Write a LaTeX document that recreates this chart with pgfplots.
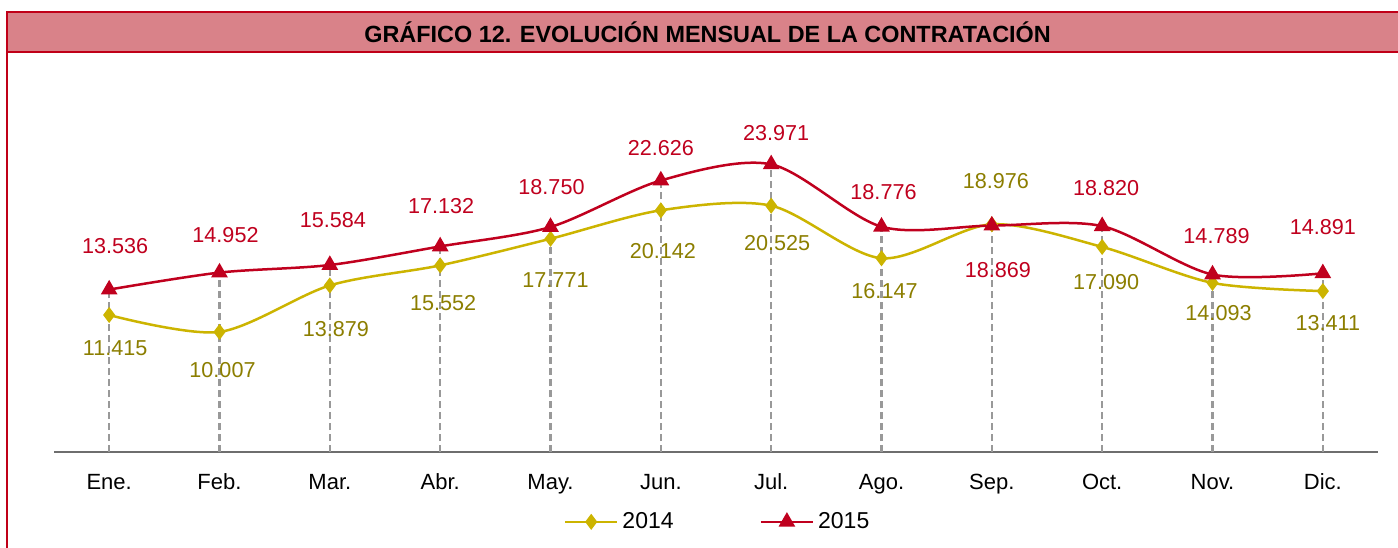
\documentclass[border=0pt]{standalone}
\usepackage{fontspec}
\setmainfont{Liberation Sans}
\usepackage{pgfplots}
\pgfplotsset{compat=1.18}
\usepackage{pgfplotstable}

\definecolor{c14}{HTML}{CCB400}
\definecolor{c14t}{HTML}{8C7E00}
\definecolor{c15}{HTML}{C0001E}
\definecolor{bandc}{HTML}{D98289}
\definecolor{framec}{HTML}{C00018}
\definecolor{dropc}{HTML}{999999}
\definecolor{axisc}{HTML}{6E6E6E}

\pgfplotstableread{
x y lab dx dy
0 11415 11.415 3 -16.7
1 10007 10.007 1.5 -19.2
2 13879 13.879 3 -22
3 15552 15.552 1.5 -19
4 17771 17.771 2.5 -20.9
5 20142 20.142 1 -20.6
6 20525 20.525 3 -18.5
7 16147 16.147 1.5 -16.6
8 18976 18.976 2 21.8
9 17090 17.090 2 -17.8
10 14093 14.093 3 -15.2
11 13411 13.411 2.5 -16.2
}\tA

\pgfplotstableread{
x y lab dx dy
0 13536 13.536 3 21.6
1 14952 14.952 3 19
2 15584 15.584 1.5 22.7
3 17132 17.132 0.5 20.4
4 18750 18.750 0.5 20.2
5 22626 22.626 0 16.4
6 23971 23.971 2.5 15.8
7 18776 18.776 1 17.5
8 18869 18.869 3 -22
9 18820 18.820 2 18.8
10 14789 14.789 2 19
11 14891 14.891 0 23
}\tB

\begin{document}
\begin{tikzpicture}
\useasboundingbox (0,0) rectangle (699pt,273.5pt);
\draw[framec, line width=1pt, fill=white] (3.4pt,-20pt) rectangle (720pt,267.6pt);
\draw[framec, line width=1pt, fill=bandc] (3.4pt,247.6pt) rectangle (720pt,267.6pt);
\node[font=\bfseries\fontsize{11.7}{14}\selectfont, inner sep=0pt] at (353.8pt,257.6pt) {GRÁFICO 12. EVOLUCIÓN MENSUAL DE LA CONTRATACIÓN};
\begin{axis}[
  at={(27pt,47.5pt)}, anchor=south west,
  scale only axis, width=662pt, height=180pt,
  xmin=-0.5, xmax=11.5, ymin=0, ymax=30000,
  clip=false,
  axis y line=none,
  axis x line*=bottom,
  x axis line style={-, draw=axisc, line width=0.75pt},
  xtick={0,...,11},
  xticklabels={Ene.,Feb.,Mar.,Abr.,May.,Jun.,Jul.,Ago.,Sep.,Oct.,Nov.,Dic.},
  major tick length=0pt,
  xticklabel style={font=\fontsize{11}{13}\selectfont, anchor=base, yshift=-18.75pt, text=black},
  legend style={at={(0.502,-0.194)}, anchor=center, draw=none, fill=none,
    font=\fontsize{11.5}{13}\selectfont, legend columns=2,
    /tikz/every even column/.append style={column sep=41pt}},
  legend image code/.code={
    \draw[mark repeat=2,mark phase=2,#1] plot coordinates {(0pt,0pt) (13pt,0pt) (26pt,0pt)};
  },
]
\addplot[ycomb, draw=dropc, line width=1.2pt, dash pattern=on 3.5pt off 2pt, forget plot] coordinates {
(0,13536) (1,14952) (2,15584) (3,17132) (4,18750) (5,22626)
(6,23971) (7,18776) (8,18976) (9,18820) (10,14789) (11,14891)};

\addplot[c14, line width=1.25pt, smooth, mark=diamond*, mark size=3pt,
  mark options={solid, fill=c14},
  nodes near coords, point meta=explicit symbolic,
  visualization depends on={\thisrow{dx} \as \dx},
  visualization depends on={\thisrow{dy} \as \dy},
  every node near coord/.append style={anchor=center, xshift=\dx, yshift=\dy,
    text=c14t, font=\fontsize{10.8}{12}\selectfont, inner sep=0pt}]
  table[x=x, y=y, meta=lab] {\tA};
\addlegendentry{2014}

\addplot[c15, line width=1.25pt, smooth, mark=triangle*, mark size=3.6pt,
  mark options={solid, fill=c15},
  nodes near coords, point meta=explicit symbolic,
  visualization depends on={\thisrow{dx} \as \dx},
  visualization depends on={\thisrow{dy} \as \dy},
  every node near coord/.append style={anchor=center, xshift=\dx, yshift=\dy,
    text=c15, font=\fontsize{10.8}{12}\selectfont, inner sep=0pt}]
  table[x=x, y=y, meta=lab] {\tB};
\addlegendentry{2015}
\end{axis}
\end{tikzpicture}
\end{document}
